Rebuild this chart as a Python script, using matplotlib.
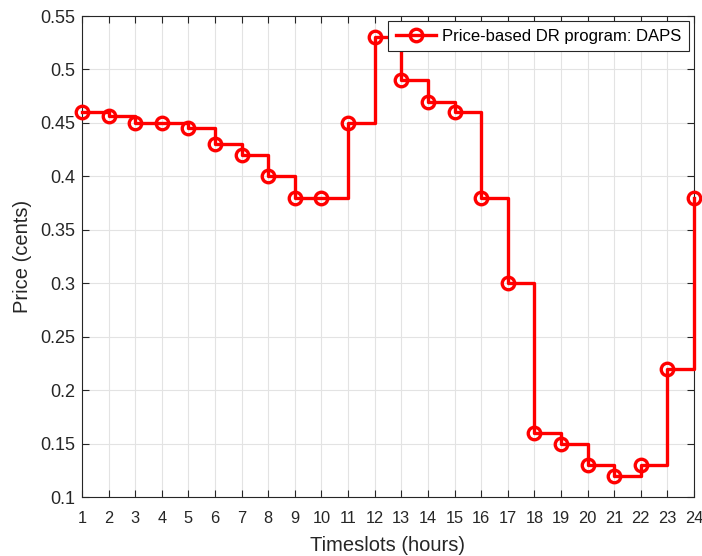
import matplotlib
matplotlib.use("Agg")
import matplotlib.pyplot as plt
import numpy as np

plt.rcParams['font.family'] = ['Liberation Sans', 'DejaVu Sans']

hours = list(range(1, 25))
price = [0.46, 0.456, 0.45, 0.45, 0.445, 0.43, 0.42, 0.40, 0.38, 0.38,
         0.45, 0.53, 0.49, 0.47, 0.46, 0.38, 0.30, 0.16, 0.15, 0.13,
         0.12, 0.13, 0.22, 0.38]
series_label = "Price-based DR program: DAPS"

fig = plt.figure(figsize=(7.02, 5.56), dpi=100)
ax = fig.add_axes([0.1168, 0.1061, 0.8718, 0.8651])

red = '#ff0000'
ax.step(hours, price, where='post', color=red, linewidth=2.4, zorder=3,
        clip_on=False)
ax.plot(hours, price, linestyle='none', marker='o', markersize=9,
        markerfacecolor='none', markeredgecolor=red, markeredgewidth=2.4,
        zorder=4, clip_on=False)
# legend proxy: line with marker
ax.plot([], [], color=red, linewidth=2.4, marker='o', markersize=9,
        markerfacecolor='none', markeredgewidth=2.4, label=series_label)

ax.set_xlim(1, 24)
ax.set_ylim(0.1, 0.55)
ax.set_xticks(hours)
ax.set_xticklabels([str(h) for h in hours])
yt = np.round(np.arange(0.1, 0.5501, 0.05), 2)
ax.set_yticks(yt)
ax.set_yticklabels([f"{v:g}" for v in yt])

ax.grid(True, color='#e3e3e3', linewidth=0.8)
ax.set_axisbelow(True)
ax.tick_params(direction='in', top=True, right=True, length=5, width=0.8,
               colors='#262626')
ax.tick_params(axis='x', pad=10, labelsize=11.8)
ax.tick_params(axis='y', pad=5, labelsize=13)
for s in ax.spines.values():
    s.set_color('#262626')
    s.set_linewidth(0.8)

ax.set_xlabel("Timeslots (hours)", fontsize=14.5, color='#262626', labelpad=7)
ax.set_ylabel("Price (cents)", fontsize=14.5, color='#262626', labelpad=6)

leg = ax.legend(loc='upper right', fontsize=12, fancybox=False, framealpha=1,
                edgecolor='#262626', borderpad=0.45, handlelength=2.4,
                handletextpad=0.4, borderaxespad=0.3)
leg.get_frame().set_linewidth(0.8)

fig.savefig("out.png", dpi=100)
